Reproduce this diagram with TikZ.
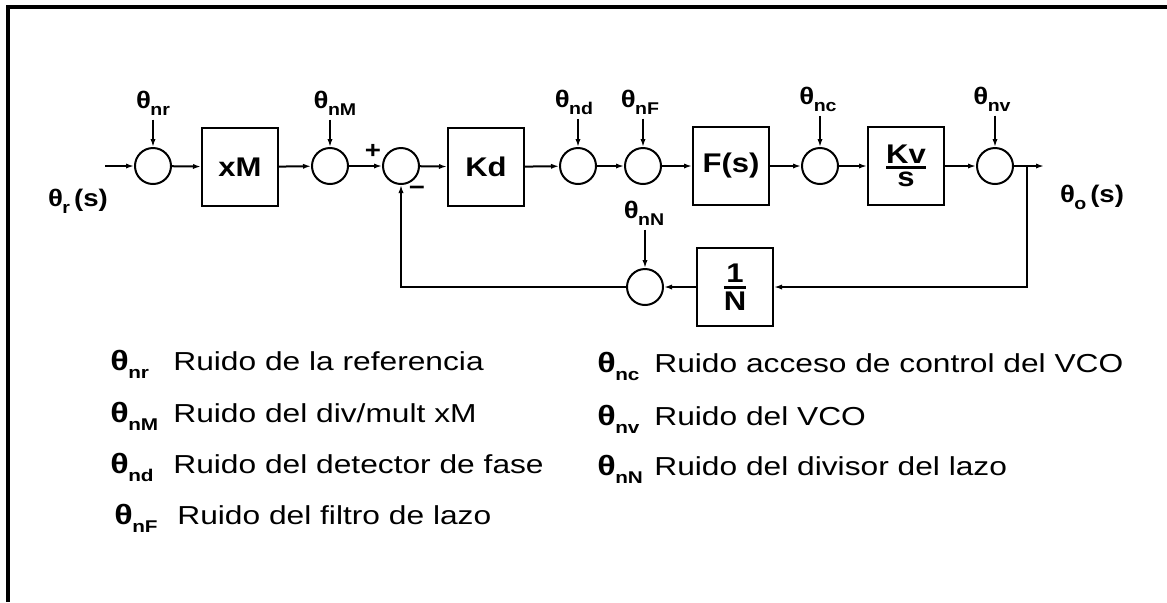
\documentclass[tikz,border=0pt]{standalone}
\usepackage{amsmath}
\usepackage{fontspec}
\setmainfont[FakeStretch=1.15]{Liberation Sans}
\newfontfamily\legfont[FakeStretch=1.22]{Liberation Sans}
\usetikzlibrary{arrows.meta,positioning}

% 雑音の記号 θ_n..
\newcommand{\thn}[2][8.5]{θ\kern-0.3pt\raisebox{-0.3em}{\fontsize{#1}{#1}\selectfont #2}}
% 分数ブロックの中身
\newcommand{\blkfrac}[2]{$\genfrac{}{}{1.5pt}{}{\mbox{#1}}{\mbox{#2}}$}

\begin{document}
\begin{tikzpicture}[x=0.5pt,y=-0.5pt,
  every node/.style={font=\bfseries\fontsize{12}{14}\selectfont},
  sumnode/.style={draw,circle,line width=1pt,minimum size=18pt,inner sep=0pt},
  blk/.style={draw,line width=1pt,minimum width=38pt,minimum height=39pt,inner sep=0pt,
    font=\bfseries\fontsize{13.5}{16}\selectfont},
  noise/.style={inner sep=2pt},
  sig/.style={line width=1pt,-{Latex[length=4pt,width=2.6pt]}},
  leg/.style={anchor=base west,inner sep=0pt,font=\legfont\fontsize{13}{15}\selectfont}]
  \useasboundingbox (0,0) rectangle (1167,602); % 画像全体の大きさ
  \draw[line width=1.6pt] (1167,7) -| (8,602); % 上と左の枠線

  \coordinate (in) at (105,166); % 入力の始点
  \node[sumnode] (sumr) at (153,166) {}; % 基準信号の加算点
  \node[blk] (mult) at (240,167) {xM}; % 逓倍器
  \node[sumnode] (summ) at (330,166) {};
  \node[sumnode] (cmp) at (401,166) {}; % 位相比較の加算点
  \node[blk] (kd) at (486,167) {Kd}; % 位相検出器
  \node[sumnode] (sumd) at (578,166) {};
  \node[sumnode] (sumf) at (643,166) {};
  \node[blk] (filt) at (731,166) {F(s)}; % ループフィルタ
  \node[sumnode] (sumc) at (820,166) {};
  \node[blk] (vco) at (906,166) {\blkfrac{Kv}{s}}; % VCO
  \node[sumnode] (sumv) at (995,166) {};
  \coordinate (branch) at (1027,166); % 帰還の分岐点
  \coordinate (out) at (1044,166); % 出力の矢印の先
  \node[blk] (div) at (735,287) {\blkfrac{1}{N}}; % 帰還の分周器
  \node[sumnode] (sumn) at (645,287) {};

  \node[noise] (nr) at (153,103) {\thn{nr}};
  \node[noise] (nM) at (335,103) {\thn{nM}};
  \node[noise] (nd) at (574,102) {\thn{nd}};
  \node[noise] (nF) at (640,102) {\thn{nF}};
  \node[noise] (nc) at (818,99) {\thn{nc}};
  \node[noise] (nv) at (992,99) {\thn{nv}};
  \node[noise] (nN) at (644,213) {\thn{nN}};
  \node (thr) at (78,201) {\thn{r}\,(s)}; % 入力の名前
  \node (tho) at (1092,197) {\thn{o}\,(s)}; % 出力の名前
  \node (plus) at (373,151) {+};
  \node (minus) at (417,191) {−};

  \draw[sig] (in) -- (sumr);
  \draw[sig] (sumr) -- (mult);
  \draw[sig] (mult) -- (summ);
  \draw[sig] (summ) -- (cmp);
  \draw[sig] (cmp) -- (kd);
  \draw[sig] (kd) -- (sumd);
  \draw[sig] (sumd) -- (sumf);
  \draw[sig] (sumf) -- (filt);
  \draw[sig] (filt) -- (sumc);
  \draw[sig] (sumc) -- (vco);
  \draw[sig] (vco) -- (sumv);
  \draw[sig] (sumv) -- (out);
  \draw[sig] (branch) |- (div); % 出力から分周器へ戻る線
  \draw[sig] (div) -- (sumn);
  \draw[sig] (sumn) -| (cmp); % 比較器の下から入る帰還

  \draw[sig] (sumr |- nr.south) -- (sumr); % 雑音の入力（上から）
  \draw[sig] (summ |- nM.south) -- (summ);
  \draw[sig] (sumd |- nd.south) -- (sumd);
  \draw[sig] (sumf |- nF.south) -- (sumf);
  \draw[sig] (sumc |- nc.south) -- (sumc);
  \draw[sig] (sumv |- nv.south) -- (sumv);
  \draw[sig] (sumn |- nN.south) -- (sumn);

  % 凡例
  \node[leg] (lnr) at (110,370) {\makebox[31.5pt][l]{\textbf{\fontsize{14}{15}\selectfont\thn[8.5]{nr}}}Ruido de la referencia};
  \node[leg] (lnM) at (110,422) {\makebox[31.5pt][l]{\textbf{\fontsize{14}{15}\selectfont\thn[8.5]{nM}}}Ruido del div/mult xM};
  \node[leg] (lnd) at (110,473) {\makebox[31.5pt][l]{\textbf{\fontsize{14}{15}\selectfont\thn[8.5]{nd}}}Ruido del detector de fase};
  \node[leg] (lnF) at (114,524) {\makebox[31.5pt][l]{\textbf{\fontsize{14}{15}\selectfont\thn[8.5]{nF}}}Ruido del filtro de lazo};
  \node[leg] (lnc) at (597,372) {\makebox[28.5pt][l]{\textbf{\fontsize{14}{15}\selectfont\thn[8.5]{nc}}}Ruido acceso de control del VCO};
  \node[leg] (lnv) at (597,425) {\makebox[28.5pt][l]{\textbf{\fontsize{14}{15}\selectfont\thn[8.5]{nv}}}Ruido del VCO};
  \node[leg] (lnN) at (597,475) {\makebox[28.5pt][l]{\textbf{\fontsize{14}{15}\selectfont\thn[8.5]{nN}}}Ruido del divisor del lazo};
\end{tikzpicture}
\end{document}
